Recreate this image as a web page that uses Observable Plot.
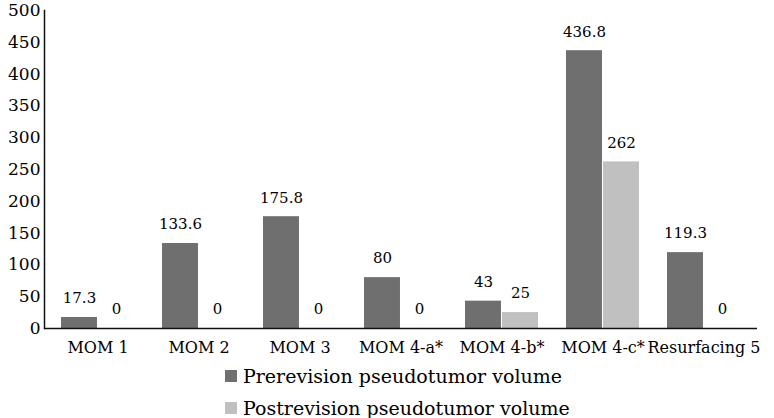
<!DOCTYPE html>
<html>
<head>
<meta charset="utf-8">
<script src="https://cdn.jsdelivr.net/npm/d3@7"></script>
<script src="https://cdn.jsdelivr.net/npm/@observablehq/plot@0.6"></script>
<style>
  html, body { margin: 0; padding: 0; background: #fff; }
  #chart { width: 774px; height: 418px; position: relative; font-family: "DejaVu Serif", serif; overflow: hidden; }
  .legend { position: absolute; left: 225px; font-size: 19px; line-height: 20px; color: #000; display: flex; align-items: center; white-space: nowrap; }
  .legend .sw { width: 12px; height: 12px; margin-right: 6px; display: inline-block; }
</style>
</head>
<body>
<div id="chart"></div>
<script>
const categories = ["MOM 1", "MOM 2", "MOM 3", "MOM 4-a*", "MOM 4-b*", "MOM 4-c*", "Resurfacing 5"];
const seriesNames = ["Prerevision pseudotumor volume", "Postrevision pseudotumor volume"];
const prerevision = [17.3, 133.6, 175.8, 80, 43, 436.8, 119.3];
const postrevision = [0, 0, 0, 0, 25, 262, 0];
const yTicks = [0, 50, 100, 150, 200, 250, 300, 350, 400, 450, 500];
const colors = ["#6f6f6f", "#c0c0c0"];

const pre = categories.map((c, i) => ({category: c, value: prerevision[i]}));
const post = categories.map((c, i) => ({category: c, value: postrevision[i]}));

const W = 774, ML = 44, MR = 17;
const padInner = 0.273, padOuter = 0.136;
const step = (W - ML - MR) / (categories.length - padInner + 2 * padOuter);
const half = step * (1 - padInner) / 2;

const plot = Plot.plot({
  width: W,
  height: 360,
  marginLeft: ML,
  marginRight: MR,
  marginTop: 10,
  marginBottom: 32,
  style: {fontFamily: "DejaVu Serif", color: "#000", background: "#fff"},
  x: {domain: categories, paddingInner: padInner, paddingOuter: padOuter, label: null},
  y: {domain: [0, 500], ticks: yTicks, label: null},
  marks: [
    Plot.barY(pre, {x: "category", y: "value", fill: colors[0], insetRight: half}),
    Plot.barY(post, {x: "category", y: "value", fill: colors[1], insetLeft: half}),
    Plot.text(pre, {x: "category", y: "value", text: d => String(d.value), dx: -half / 2, dy: -19, fontSize: 15, fill: "#000"}),
    Plot.text(post, {x: "category", y: "value", text: d => String(d.value), dx: half / 2, dy: -19, fontSize: 15, fill: "#000"}),
    Plot.axisY({ticks: yTicks, tickSize: 0, tickPadding: 4, fontSize: 17, label: null}),
    Plot.axisX({tickSize: 0, tickPadding: 13, fontSize: 16, label: null}),
    Plot.ruleY([0], {stroke: "#111", strokeWidth: 1.5}),
    Plot.frame({anchor: "left", stroke: "#111", strokeWidth: 1.5})
  ]
});

const chart = document.getElementById("chart");
chart.appendChild(plot);

const legendTops = [366, 398];
seriesNames.forEach((name, i) => {
  const row = document.createElement("div");
  row.className = "legend";
  row.style.top = legendTops[i] + "px";
  const sw = document.createElement("span");
  sw.className = "sw";
  sw.style.background = colors[i];
  row.appendChild(sw);
  const t = document.createElement("span");
  t.textContent = name;
  row.appendChild(t);
  chart.appendChild(row);
});
</script>
</body>
</html>
